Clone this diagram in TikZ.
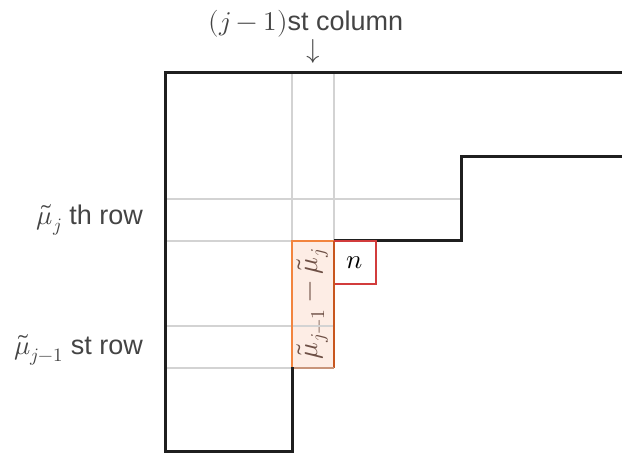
\documentclass[tikz,border=0pt]{standalone}
\usepackage{fontspec}
\setmainfont{Liberation Sans}
\usepackage{unicode-math}
\setmathfont{Latin Modern Math}
\definecolor{txt}{HTML}{444444}
\definecolor{gridc}{HTML}{D3D3D3}
\definecolor{boxfill}{HTML}{FDEAE0}
\definecolor{boxedge}{HTML}{F2843E}
\definecolor{boxright}{HTML}{C8561E}
\definecolor{boxbottom}{HTML}{C8957A}
\definecolor{boxtext}{HTML}{6E5046}
\definecolor{redc}{HTML}{D23C3C}
\tikzset{
  outline/.style={draw=black!88, line width=3pt},
  gridline/.style={draw=gridc, line width=2.6pt},
  lbl/.style={text=txt, font=\fontsize{27}{32}\selectfont, inner sep=0pt},
}
\begin{document}
\begin{tikzpicture}[x=1pt,y=-1pt]
\useasboundingbox (0,0) rectangle (622,454);
% grid lines
\draw[gridline] (292,73) -- (292,241);
\draw[gridline] (334,73) -- (334,241);
\draw[gridline] (165,199) -- (461,199);
\draw[gridline] (165,241) -- (292,241);
\draw[gridline] (165,326) -- (334,326);
\draw[gridline] (165,368) -- (292,368);
% orange box
\fill[boxfill,opacity=0.85] (292,241) rectangle (334,368);
\node[lbl, text=boxtext, rotate=90, font=\fontsize{28}{32}\selectfont] (diff) at (313,304.5) {$\tilde\mu_{j-1}-\tilde\mu_j$};
\draw[gridline] (292,326) -- (334,326);
\draw[boxedge, line width=2.6pt] (292,368) -- (292,241) -- (334,241);
\draw[boxright, line width=2.6pt] (334,241) -- (334,368);
\draw[boxbottom, line width=2.6pt] (292,368) -- (334,368);
% outline
\draw[outline] (622,73) -- (165,73) -- (165,452) -- (292,452) -- (292,367);
\draw[outline] (334,241) -- (461,241) -- (461,157) -- (622,157);
% red box
\draw[redc, line width=2.6pt] (334,241) -- (376,241) -- (376,284) -- (335,284);
\node[lbl, text=black] (n) at (355,263) {$n$};
% labels
\node[lbl, anchor=base] (col) at (306,31) {$(j-1)$st column};
\node[lbl] (arr) at (313,51) {$\downarrow$};
\node[lbl, anchor=east] (rowj) at (143,220) {$\tilde\mu_j$ th row};
\node[lbl, anchor=east] (rowj1) at (143,350) {$\tilde\mu_{j-1}$ st row};
\end{tikzpicture}
\end{document}
